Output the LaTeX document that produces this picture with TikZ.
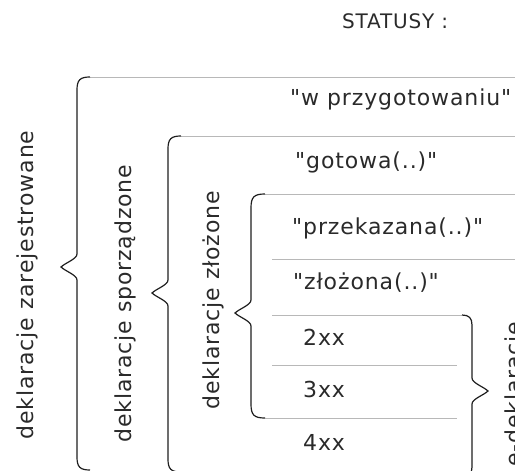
\documentclass[tikz,border=0pt]{standalone}
\usepackage{fontspec}
\newfontfamily\verdanka[LetterSpace=4,Ligatures=TeXOff]{DejaVu Sans}
\definecolor{tekst}{HTML}{2A2A2A}
\definecolor{szary}{HTML}{B8B8B8}
\definecolor{czarny}{HTML}{1E1E1E}

% klamry: x, gora, srodek, dol, zaokraglenie
\newcommand{\lewaklamra}[5]{%
  \draw[klamra] (#1+#5,#2) .. controls (#1+3,#2) and (#1,#2+3) .. (#1,#2+#5)
    -- (#1,#3-13) .. controls (#1,#3-8) and (#1-12,#3-4) .. (#1-16,#3)
    .. controls (#1-12,#3+4) and (#1,#3+8) .. (#1,#3+13)
    -- (#1,#4-#5) .. controls (#1,#4-3) and (#1+3,#4) .. (#1+#5,#4);}
\newcommand{\prawaklamra}[5]{%
  \draw[klamra] (#1-#5,#2) .. controls (#1-3,#2) and (#1,#2+3) .. (#1,#2+#5)
    -- (#1,#3-13) .. controls (#1,#3-8) and (#1+12,#3-4) .. (#1+16,#3)
    .. controls (#1+12,#3+4) and (#1,#3+8) .. (#1,#3+13)
    -- (#1,#4-#5) .. controls (#1,#4-3) and (#1-3,#4) .. (#1-#5,#4);}

\begin{document}
\begin{tikzpicture}[x=1pt,y=-1pt,
  linia/.style={draw=szary, line width=1pt},
  klamra/.style={draw=czarny, line width=1.2pt},
  etykieta/.style={text=tekst, inner sep=0pt, anchor=base west,
    font=\verdanka\fontsize{22}{26}\selectfont}]
\path[use as bounding box] (0,0) rectangle (515,471);
\clip (0,0) rectangle (515,471);

\node[etykieta, font=\verdanka\fontsize{20}{24}\selectfont] (statusy) at (342,28) {STATUSY\hspace{7pt}:};

% poziome linie
\draw[linia] (90,77) -- (516,77);
\draw[linia] (181,136) -- (516,136);
\draw[linia] (265,194) -- (516,194);
\draw[linia] (272,259) -- (516,259);
\draw[linia] (272,315) -- (462,315);
\draw[linia] (272,365) -- (457,365);
\draw[linia] (265,418) -- (457,418);

% klamry
\lewaklamra{77}{77}{267}{470}{13}
\lewaklamra{168}{136}{293}{472}{13}
\lewaklamra{251}{194}{313}{418}{14}
\prawaklamra{472}{315}{391}{477}{10}

% statusy
\node[etykieta] (przyg) at (290,105) {"w przygotowaniu"};
\node[etykieta] (gotowa) at (295,168) {"gotowa(..)"};
\node[etykieta] (przek) at (292,234) {"przekazana(..)"};
\node[etykieta] (zloz) at (293,289) {"złożona(..)"};
\node[etykieta] (s2xx) at (303,345) {2xx};
\node[etykieta] (s3xx) at (303,397) {3xx};
\node[etykieta] (s4xx) at (303,450) {4xx};

% grupy
\node[etykieta, rotate=90] (zarej) at (34,440) {deklaracje zarejestrowane};
\node[etykieta, rotate=90] (sporz) at (131,443) {deklaracje sporządzone};
\node[etykieta, rotate=90] (zlozone) at (219,410) {deklaracje złożone};
\node[etykieta, rotate=90] (edekl) at (521,467) {e-deklaracje};
\end{tikzpicture}
\end{document}
